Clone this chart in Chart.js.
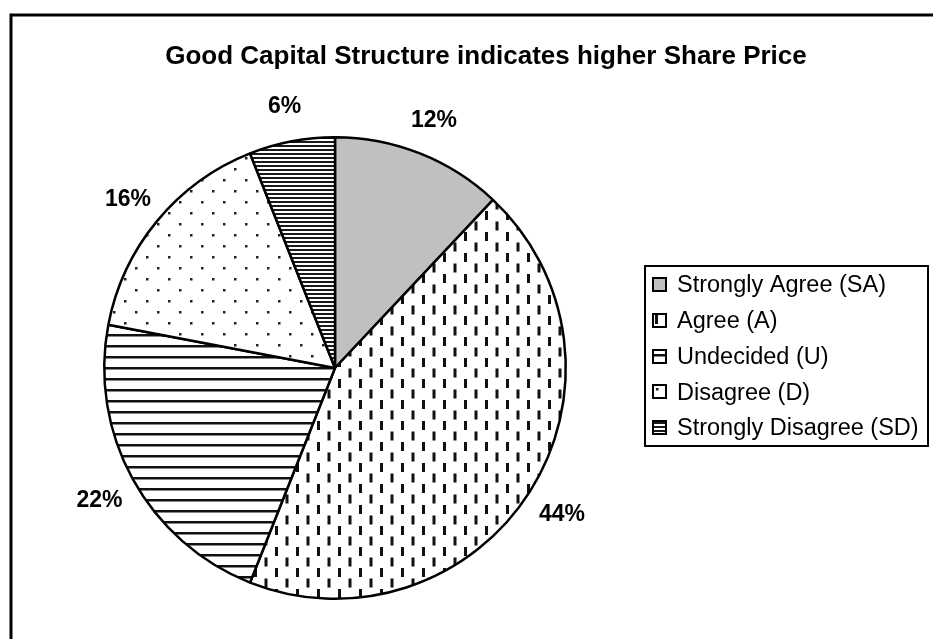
<!DOCTYPE html>
<html>
<head>
<meta charset="utf-8">
<script src="https://cdn.jsdelivr.net/npm/chart.js@4/dist/chart.umd.min.js"></script>
<style>
  html, body { margin: 0; padding: 0; background: #fff; }
  #wrap { width: 933px; height: 639px; }
</style>
</head>
<body>
<div id="wrap"><canvas id="pieChart" width="933" height="639"></canvas></div>
<script>
// chart data
const chartTitle = 'Good Capital Structure indicates higher Share Price';
const categories = ['Strongly Agree (SA)', 'Agree (A)', 'Undecided (U)', 'Disagree (D)', 'Strongly Disagree (SD)'];
const shares = [12, 44, 22, 16, 6];
const shareLabels = ['12%', '44%', '22%', '16%', '6%'];

const FONT = "'Liberation Sans', Arial, sans-serif";

function makePattern(w, h, draw) {
    const c = document.createElement('canvas');
    c.width = w;
    c.height = h;
    const g = c.getContext('2d');
    g.fillStyle = '#fff';
    g.fillRect(0, 0, w, h);
    draw(g);
    return document.createElement('canvas').getContext('2d').createPattern(c, 'repeat');
}

// fills: solid gray, dashed vertical, wide horizontal, sparse dots, narrow horizontal
const fills = [
    '#c0c0c0',
    makePattern(21, 21, g => {
        g.fillStyle = '#111';
        g.fillRect(2, 1, 3, 9);
        g.fillRect(12.5, 11.5, 3, 9);
    }),
    makePattern(4, 11, g => {
        g.fillStyle = '#111';
        g.fillRect(0, 4, 4, 2.5);
    }),
    makePattern(22, 22, g => {
        g.fillStyle = '#222';
        g.fillRect(3, 3, 2.5, 2.5);
        g.fillRect(14, 14, 2.5, 2.5);
    }),
    makePattern(4, 4, g => {
        g.fillStyle = '#1a1a1a';
        g.fillRect(0, 1, 4, 2);
    })
];

const framePlugin = {
    id: 'frame',
    afterDraw(chart) {
        const ctx = chart.ctx;
        ctx.save();

        // outer border
        ctx.strokeStyle = '#000';
        ctx.lineWidth = 3;
        ctx.strokeRect(11, 15, 960, 700);

        // title
        ctx.fillStyle = '#000';
        ctx.font = 'bold 26px ' + FONT;
        ctx.textAlign = 'center';
        ctx.textBaseline = 'middle';
        ctx.fillText(chartTitle, 486, 57);

        // percentage labels outside the slices
        const meta = chart.getDatasetMeta(0);
        ctx.font = 'bold 23px ' + FONT;
        meta.data.forEach((arc, i) => {
            const mid = (arc.startAngle + arc.endAngle) / 2;
            const r = arc.outerRadius + 38;
            ctx.fillText(shareLabels[i], arc.x + Math.cos(mid) * r, arc.y + Math.sin(mid) * r + 3);
        });

        // legend box
        ctx.lineWidth = 2;
        ctx.strokeRect(645, 266, 283, 180);
        ctx.font = '23.5px ' + FONT;
        ctx.textAlign = 'left';
        categories.forEach((name, i) => {
            const cy = 285 + i * 35.75;
            ctx.save();
            ctx.translate(653, Math.round(cy - 7));
            ctx.fillStyle = fills[i];
            ctx.fillRect(0, 0, 13, 13);
            ctx.lineWidth = 2;
            ctx.strokeStyle = '#000';
            ctx.strokeRect(0, 0, 13, 13);
            ctx.restore();
            ctx.fillStyle = '#000';
            ctx.fillText(name, 677, cy + 1);
        });

        ctx.restore();
    }
};

const ctx = document.getElementById('pieChart').getContext('2d');
new Chart(ctx, {
    type: 'pie',
    data: {
        labels: categories,
        datasets: [{
            data: shares,
            backgroundColor: fills,
            borderColor: '#000',
            borderWidth: 2.5
        }]
    },
    options: {
        responsive: false,
        animation: false,
        layout: {
            padding: { left: 103, top: 136, right: 366, bottom: 39 }
        },
        plugins: {
            legend: { display: false },
            title: { display: false },
            tooltip: { enabled: false }
        }
    },
    plugins: [framePlugin]
});
</script>
</body>
</html>
